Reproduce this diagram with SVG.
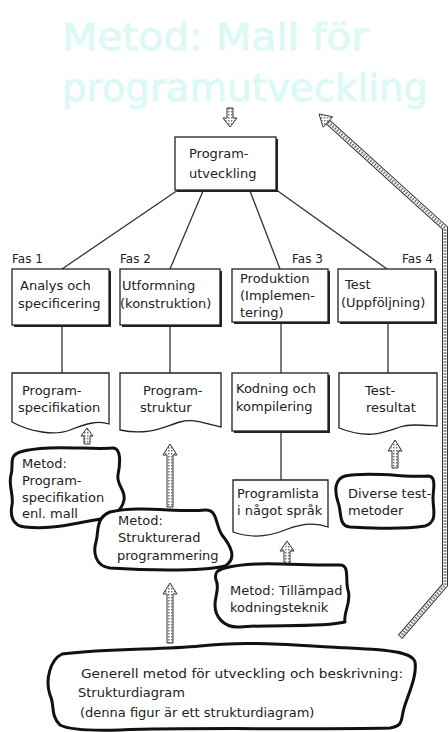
<svg xmlns="http://www.w3.org/2000/svg" width="448" height="732" viewBox="0 0 448 732">
<style>
text{font-family:"DejaVu Sans","Liberation Sans",sans-serif;font-size:13px;fill:#222}
.title{font-size:38px;fill:#dcf9f6;stroke:#dcf9f6;stroke-width:0.8}
.fas{font-size:12px}
.box{fill:#fff;stroke:#222;stroke-width:1.3}
.shadow{fill:#222}
.doc{fill:#fff;stroke:#222;stroke-width:1.3}
.cloud{fill:#fff;stroke:#111;stroke-width:3;stroke-linejoin:round}
.line{stroke:#333;stroke-width:1.3;fill:none}
.harrow{fill:url(#stip);stroke:#333;stroke-width:1}
</style>
<defs>
<pattern id="stip" width="3" height="3" patternUnits="userSpaceOnUse">
<rect width="3" height="3" fill="#fff"/><rect width="1.5" height="1.5" fill="#777"/>
</pattern>
</defs>
<rect width="448" height="732" fill="#fff"/>
<g id="title">
<text class="title" x="62" y="50" textLength="306" lengthAdjust="spacingAndGlyphs">Metod: Mall för</text>
<text class="title" x="62" y="101" textLength="366" lengthAdjust="spacingAndGlyphs">programutveckling</text>
</g>
<g id="connectors">
<line class="line" x1="178" y1="190" x2="62" y2="269"/>
<line class="line" x1="203" y1="191" x2="170" y2="269"/>
<line class="line" x1="250" y1="191" x2="280" y2="269"/>
<line class="line" x1="275" y1="189" x2="387" y2="269"/>
<line class="line" x1="62" y1="325" x2="62" y2="373"/>
<line class="line" x1="170" y1="325" x2="170" y2="373"/>
<line class="line" x1="281" y1="322" x2="281" y2="373"/>
<line class="line" x1="388" y1="322" x2="388" y2="373"/>
<line class="line" x1="281" y1="431" x2="281" y2="480"/>
<polygon class="harrow" points="227,108 233,108 233,118 237,118 230,127 223,118 227,118"/>
<polygon class="harrow" points="87,428 93,436 90,436 90,444 84,444 84,436 81,436"/>
<polygon class="harrow" points="170,444 177,455 173,455 173,507 167,507 167,455 163,455"/>
<polygon class="harrow" points="395,440 402,451 398,451 398,468 392,468 392,451 388,451"/>
<polygon class="harrow" points="287,541 294,551 290,551 290,567 284,567 284,551 280,551"/>
<polygon class="harrow" points="170,583 177,594 173,594 173,643 167,643 167,594 163,594"/>
<polyline points="400,637 445,585 445,228 328,122" fill="none" stroke="#333" stroke-width="6" stroke-linejoin="miter"/>
<polyline points="400,637 445,585 445,228 328,122" fill="none" stroke="#fff" stroke-width="4" stroke-linejoin="miter"/>
<polyline points="400,637 445,585 445,228 328,122" fill="none" stroke="#777" stroke-width="3" stroke-dasharray="1.5 1.5" stroke-linejoin="miter"/>
<polygon class="harrow" points="319,114 332.6,116.8 323.2,127.2"/>
</g>
<g id="n-program">
<rect class="shadow" x="177" y="139" width="101" height="53"/>
<rect class="box" x="175" y="137" width="101" height="53"/>
<text x="189" y="158">Program-</text>
<text x="189" y="178">utveckling</text>
</g>
<g id="n-fas1">
<text class="fas" x="12" y="263">Fas 1</text>
<rect class="shadow" x="14" y="271" width="97" height="56"/>
<rect class="box" x="12" y="269" width="97" height="56"/>
<text x="20" y="290">Analys och</text>
<text x="18" y="308">specificering</text>
</g>
<g id="n-fas2">
<text class="fas" x="120" y="263">Fas 2</text>
<rect class="shadow" x="122" y="271" width="100" height="56"/>
<rect class="box" x="120" y="269" width="100" height="56"/>
<text x="122" y="290">Utformning</text>
<text x="120" y="308">(konstruktion)</text>
</g>
<g id="n-fas3">
<text class="fas" x="292" y="263">Fas 3</text>
<rect class="shadow" x="234" y="271" width="96" height="53"/>
<rect class="box" x="232" y="269" width="96" height="53"/>
<text x="240" y="283">Produktion</text>
<text x="240" y="300">(Implemen-</text>
<text x="240" y="317">tering)</text>
</g>
<g id="n-fas4">
<text class="fas" x="402" y="263">Fas 4</text>
<rect class="shadow" x="340" y="271" width="97" height="53"/>
<rect class="box" x="338" y="269" width="97" height="53"/>
<text x="345" y="289">Test</text>
<text x="341" y="307">(Uppföljning)</text>
</g>
<g id="n-doc1">
<path class="doc" d="M12 373 H109 V424 C98 420,85 424,70 430 C55 436,30 432,12 422 Z"/>
<text x="22" y="395">Program-</text>
<text x="18" y="412">specifikation</text>
</g>
<g id="n-doc2">
<path class="doc" d="M120 373 H221 V427 C205 424,195 418,180 422 C165 426,150 436,120 430 Z"/>
<text x="143" y="395">Program-</text>
<text x="140" y="412">struktur</text>
</g>
<g id="n-kodning">
<rect class="shadow" x="234" y="375" width="96" height="58"/>
<rect class="box" x="232" y="373" width="96" height="58"/>
<text x="236" y="393">Kodning och</text>
<text x="236" y="411">kompilering</text>
</g>
<g id="n-doc4">
<path class="doc" d="M339 373 H437 V426 C420 425,410 424,400 427 C385 432,370 440,339 428 Z"/>
<text x="365" y="395">Test-</text>
<text x="366" y="412">resultat</text>
</g>
<g id="n-doc3">
<path class="doc" d="M233 480 H328 V527 C315 522,300 524,285 530 C268 537,250 538,233 532 Z"/>
<text x="237" y="498">Programlista</text>
<text x="237" y="515">i något språk</text>
</g>
<g id="n-cloud1">
<path class="cloud" d="M20 452 C45 444,90 450,112 448 C122 447,120 465,118 475 C116 485,126 490,124 500 C122 512,110 518,95 520 C70 524,50 530,25 527 C12 526,10 515,12 505 C14 495,8 485,11 475 C14 465,8 456,20 452 Z"/>
<text x="22" y="468">Metod:</text>
<text x="22" y="485">Program-</text>
<text x="22" y="502">specifikation</text>
<text x="22" y="518">enl. mall</text>
</g>
<g id="n-cloud2">
<path class="cloud" d="M110 512 C140 505,180 513,205 510 C218 509,215 525,222 535 C230 545,238 558,225 566 C200 572,140 570,110 568 C95 566,93 552,96 542 C99 532,95 518,110 512 Z"/>
<text x="118" y="525">Metod:</text>
<text x="118" y="542">Strukturerad</text>
<text x="117" y="560">programmering</text>
</g>
<g id="n-cloud3">
<path class="cloud" d="M345 476 C370 471,410 478,428 476 C437 476,433 490,433 498 C433 510,438 522,425 526 C400 530,370 528,350 527 C338 526,342 512,338 502 C334 490,335 479,345 476 Z"/>
<text x="348" y="498">Diverse test-</text>
<text x="348" y="515">metoder</text>
</g>
<g id="n-cloud4">
<path class="cloud" d="M225 568 C255 560,300 566,340 565 C350 565,345 580,348 590 C352 602,343 612,345 622 C320 628,270 624,240 627 C222 628,215 615,215 605 C215 595,220 588,216 580 C214 572,218 570,225 568 Z"/>
<text x="230" y="595">Metod: Tillämpad</text>
<text x="230" y="612">kodningsteknik</text>
</g>
<g id="n-cloud5">
<path class="cloud" d="M62 654 C110 648,160 650,200 646 C250 640,300 646,350 648 C390 650,412 652,415 662 C417 675,410 690,405 705 C400 718,405 726,390 728 C300 730,200 727,120 730 C90 731,70 730,60 725 C50 715,55 705,50 695 C45 680,50 660,62 654 Z"/>
<text x="81" y="678" textLength="322" lengthAdjust="spacingAndGlyphs">Generell metod för utveckling och beskrivning:</text>
<text x="78" y="697">Strukturdiagram</text>
<text x="80" y="717">(denna figur är ett strukturdiagram)</text>
</g>
</svg>
